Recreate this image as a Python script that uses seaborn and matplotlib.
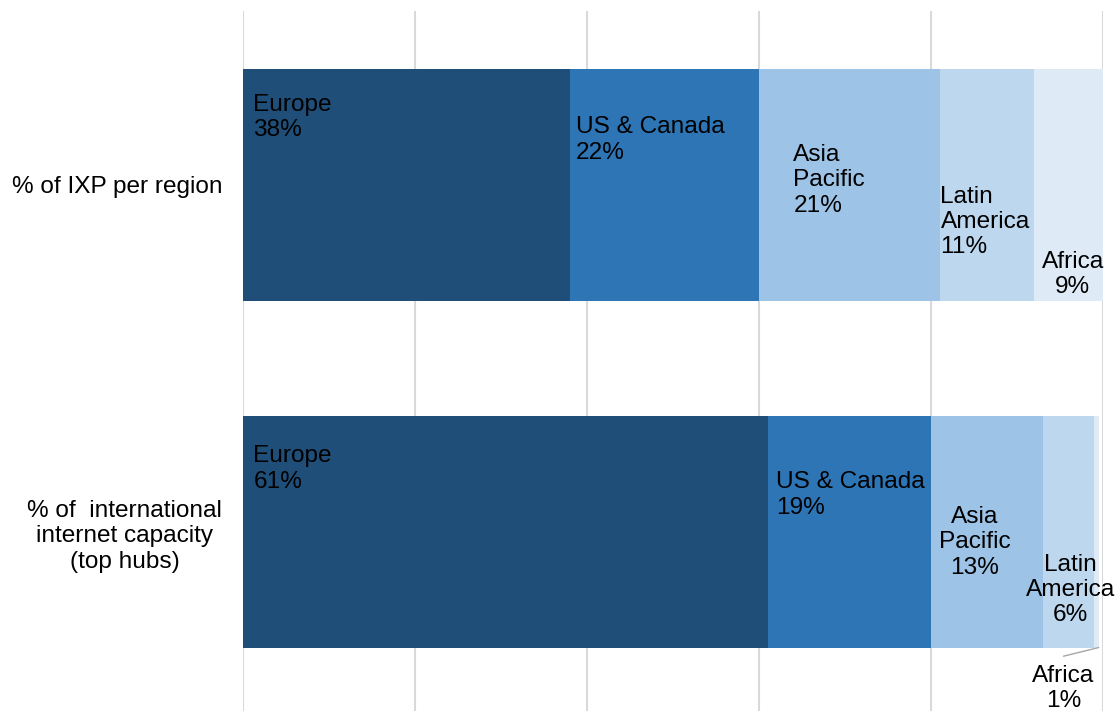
import numpy as np
import pandas as pd
import matplotlib
matplotlib.use("Agg")
import matplotlib.pyplot as plt
import seaborn as sns

# data
measures = ["% of IXP per region", "% of  international\ninternet capacity\n(top hubs)"]
regions = ["Europe", "US & Canada", "Asia Pacific", "Latin America", "Africa"]
ixp_share = [38.0, 22.0, 21.0, 11.0, 8.0]
capacity_share = [61.0, 19.0, 13.0, 6.0, 0.5]
ixp_labels = ["38%", "22%", "21%", "11%", "9%"]
capacity_labels = ["61%", "19%", "13%", "6%", "1%"]
region_text = ["Europe", "US & Canada", "Asia\nPacific", "Latin\nAmerica", "Africa"]

colors = ["#1F4E79", "#2E75B6", "#9DC3E6", "#BDD7EE", "#DEEBF7"]

sns.set_style("white")
plt.rcParams["font.family"] = ["Liberation Sans", "DejaVu Sans"]
plt.rcParams["text.color"] = "black"
plt.rcParams["ytick.color"] = "black"

df = pd.DataFrame({"measure": measures * len(regions),
                   "region": np.repeat(regions, len(measures)),
                   "value": np.ravel(np.column_stack([ixp_share, capacity_share]))})
df["cum"] = df.groupby("measure", sort=False)["value"].cumsum()
df["start"] = df["cum"] - df["value"]

fig = plt.figure(figsize=(11.2, 7.11), dpi=100)
ax = fig.add_axes([243 / 1120, 0.3 / 711, 860 / 1120, 699.2 / 711])

# stacked: draw the cumulative totals from the last region backwards
for reg, col in reversed(list(zip(regions, colors))):
    sub = df[df["region"] == reg]
    sns.barplot(data=sub, y="measure", x="cum", order=measures, color=col,
                orient="h", width=0.666, saturation=1, linewidth=0, ax=ax)

ax.set_xlim(0, 100)
ax.set_ylim(1.515, -0.5)
ax.set_xticks(np.arange(0, 101, 20))
ax.set_xticklabels([])
ax.xaxis.grid(True, color="#D9D9D9", linewidth=1.5)
ax.set_axisbelow(True)
ax.set_xlabel("")
ax.set_ylabel("")
for s in ax.spines.values():
    s.set_visible(False)
ax.tick_params(axis="both", length=0)
ax.tick_params(axis="y", pad=15)
ax.set_yticks(range(len(measures)))
ax.set_yticklabels(measures, fontsize=17.6, multialignment="center", linespacing=1.2)

# label placement: (x offset from segment start, y offset from bar centre, ha)
ixp_pos = [(1.2, -0.262, "left"), (0.7, -0.198, "left"), (4.0, -0.118, "left"),
           (0.1, 0.002, "left"), (4.5, 0.19, "center")]
cap_pos = [(1.2, -0.25, "left"), (1.0, -0.175, "left"), (5.1, -0.075, "center"),
           (3.2, 0.062, "center"), (-3.6, 0.382, "center")]

for row, (labels, pos) in enumerate([(ixp_labels, ixp_pos), (capacity_labels, cap_pos)]):
    sub = df[df["measure"] == measures[row]].reset_index(drop=True)
    for i, (dx, dy, ha) in enumerate(pos):
        ax.text(sub["start"][i] + dx, row + dy, region_text[i] + "\n" + labels[i],
                ha=ha, va="top", fontsize=17.6, linespacing=1.2,
                multialignment=ha, clip_on=False)

# leader line for the small Africa slice
sub = df[df["measure"] == measures[1]].reset_index(drop=True)
ax.plot([sub["cum"][4], sub["start"][4] - 3.6], [1 + 0.333, 1 + 0.358],
        color="#A6A6A6", linewidth=1, clip_on=False)

fig.savefig("out.png", dpi=100)
